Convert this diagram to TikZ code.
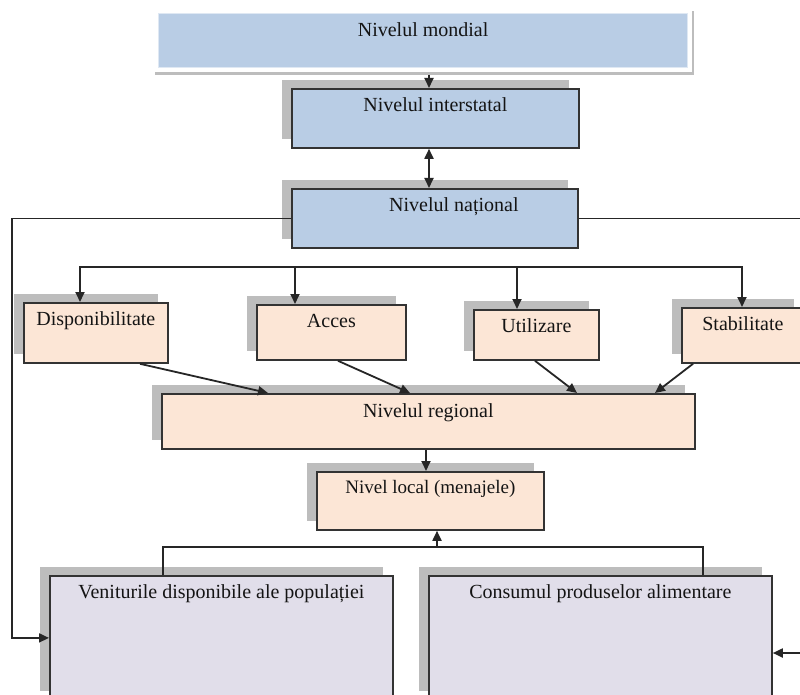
\documentclass[tikz,border=0pt]{standalone}
\usepackage{fontspec}
\setmainfont{Liberation Serif}
\usetikzlibrary{arrows.meta,shadows}
\definecolor{bluefill}{HTML}{B9CDE5}
\definecolor{peachfill}{HTML}{FCE6D6}
\definecolor{lavfill}{HTML}{E1DEEA}
\definecolor{shadowgray}{HTML}{BDBDBD}
\definecolor{edgecol}{HTML}{333333}
\definecolor{linecol}{HTML}{262626}
\definecolor{txtcol}{HTML}{141414}
\tikzset{
  lvlbox/.style={draw=edgecol, line width=1.8pt, inner sep=0pt, anchor=north west,
    text height=23pt, text=txtcol, font=\fontsize{20}{23}\selectfont,
    general shadow={fill=shadowgray, shadow xshift=-10pt, shadow yshift=9pt}},
  bluebox/.style={lvlbox, fill=bluefill},
  peachbox/.style={lvlbox, fill=peachfill},
  lavbox/.style={lvlbox, fill=lavfill},
  conn/.style={draw=linecol, line width=1.8pt},
  arr/.style={conn, -{Triangle[length=10pt,width=9pt]}},
  darr/.style={conn, {Triangle[length=10pt,width=9pt]}-{Triangle[length=10pt,width=9pt]}},
}
\begin{document}
\begin{tikzpicture}[x=1pt,y=-1pt]
\useasboundingbox (0,0) rectangle (800,695);
\clip (0,0) rectangle (800,695);
\fill[white] (0,0) rectangle (800,695);

% top level (mondial)
\draw[shadowgray, line width=2.5pt] (155,73.5) -- (693,73.5) -- (693,11);
\node[draw=bluefill!45!white, line width=1.2pt, fill=bluefill, inner sep=0pt, anchor=north west,
  minimum width=529pt, text height=23pt, text depth=31pt, text=txtcol,
  font=\fontsize{20}{23}\selectfont] (mond) at (158,13) {Nivelul mondial};
\coordinate (mondbase) at (429,75);

\node[bluebox, minimum width=287pt, text depth=36pt] (inter) at (291,88) {Nivelul interstatal};
\node[bluebox, minimum width=286pt, text depth=36pt] (nat) at (291,188) {\hspace*{38pt}Nivelul național};

\node[peachbox, minimum width=144pt, text depth=37pt] (disp) at (23,302) {Disponibilitate};
\node[peachbox, minimum width=149pt, text depth=32pt] (acc) at (256,304) {Acces};
\node[peachbox, minimum width=125pt, text depth=27pt] (util) at (473,309) {Utilizare};
\node[peachbox, minimum width=122pt, text depth=32pt] (stab) at (681,307) {Stabilitate};

\node[peachbox, minimum width=533pt, text height=24pt, text depth=31pt] (reg) at (161,393) {Nivelul regional};
\node[peachbox, minimum width=227pt, text height=22pt, text depth=36pt,
  font=\fontsize{19}{22}\selectfont] (loc) at (316,471) {Nivel local (menajele)};

\node[lavbox, minimum width=343pt, text depth=101pt] (venit) at (49,575) {Veniturile disponibile ale populației};
\node[lavbox, minimum width=343pt, text depth=101pt] (cons) at (428,575) {Consumul produselor alimentare};

% connectors top
\draw[arr] (mondbase) -- (inter.north -| mondbase);
\draw[darr] (inter.south -| mondbase) -- (nat.north -| mondbase);

% side lines from national
\coordinate (leftc) at (12,400);
\coordinate (rightc) at (815,653);
\draw[arr] (nat.west) -| (leftc) |- (venit.west);
\draw[arr] (nat.east) -| (rightc) -- (cons.east |- rightc);

% distribution line
\coordinate (d1) at (80,267);
\coordinate (d2) at (295,267);
\coordinate (d3) at (517,267);
\coordinate (d4) at (742,267);
\draw[conn] ([xshift=-1pt]d1) -- ([xshift=0.9pt]d4);
\draw[arr] (d1) -- (disp.north -| d1);
\draw[arr] (d2) -- (acc.north -| d2);
\draw[arr] (d3) -- (util.north -| d3);
\draw[arr] (d4) -- (stab.north -| d4);

% to regional
\draw[arr] ([xshift=117pt]disp.south west) -- ([xshift=107pt]reg.north west);
\draw[arr] ([xshift=82pt]acc.south west) -- ([xshift=249pt]reg.north west);
\draw[arr] ([xshift=62pt]util.south west) -- ([xshift=416pt]reg.north west);
\draw[arr] ([xshift=12pt]stab.south west) -- ([xshift=494pt]reg.north west);

% regional to local
\draw[arr] ([xshift=265pt]reg.south west) -- ([xshift=110pt]loc.north west);

% bottom junction
\coordinate (junc) at (437,547);
\draw[conn] ([xshift=114pt]venit.north west) |- (junc);
\draw[conn] ([xshift=275pt]cons.north west) |- (junc);
\draw[arr] (junc) -- (loc.south -| junc);
\end{tikzpicture}
\end{document}
